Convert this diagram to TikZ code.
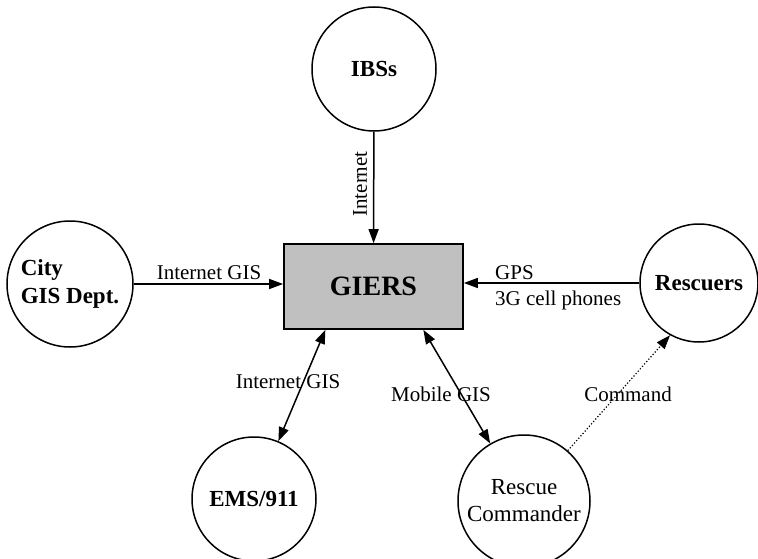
\documentclass[tikz,border=0pt]{standalone}
\usepackage{fontspec}
\setmainfont{Liberation Serif}
\usetikzlibrary{arrows.meta}
\begin{document}
\begin{tikzpicture}[x=1pt,y=-1pt,
  ent/.style={circle,draw,line width=1.5pt,inner sep=0pt,font=\fontsize{23}{28}\selectfont\bfseries,align=center},
  plain/.style={circle,draw,line width=1.5pt,inner sep=0pt,font=\fontsize{23}{27}\selectfont,align=center},
  lbl/.style={inner sep=0pt,font=\fontsize{21}{25}\selectfont},
  conn/.style={line width=1.5pt,-{Triangle[length=14pt,width=10pt]}},
  biconn/.style={line width=1.5pt,{Triangle[length=14pt,width=10pt]}-{Triangle[length=14pt,width=10pt]}},
  cmd/.style={line width=1.2pt,dotted,-{Triangle[length=14pt,width=10pt]}}]
\useasboundingbox (0,0) rectangle (758,559);
\node[draw,line width=1.7pt,fill={rgb,255:red,192;green,192;blue,192},minimum width=179pt,minimum height=85pt,inner sep=0pt,font=\fontsize{28}{32}\selectfont\bfseries] (giers) at (373.5,286.5) {GIERS};
\node[ent,minimum size=124pt] (ibs) at (374,69) {IBSs};
\node[ent,minimum size=126pt,align=left] (city) at (70,284) {City\\GIS Dept.};
\node[ent,minimum size=118pt] (resc) at (699,283) {Rescuers};
\node[ent,minimum size=124pt] (ems) at (254,499) {EMS/911};
\node[plain,minimum size=132pt] (rc) at (524,501) {Rescue\\Commander};
\draw[conn] (ibs) -- (giers);
\draw[conn] (city) -- (giers.west |- city.east);
\draw[conn] (resc) -- (giers.east |- resc.west);
\draw[biconn] (giers.222) -- (ems);
\draw[biconn] (giers.319) -- (rc);
\draw[cmd] (rc.49) -- (resc.241);
\node[lbl,rotate=90] (l1) at (360,184) {Internet};
\node[lbl] (l2) at (209,273) {Internet GIS};
\node[lbl,anchor=west] (l3) at (495,273) {GPS};
\node[lbl,anchor=west] (l4) at (495,300) {3G cell phones};
\node[lbl] (l5) at (288,382) {Internet GIS};
\node[lbl] (l6) at (441,394) {Mobile GIS};
\node[lbl] (l7) at (628,394) {Command};
\end{tikzpicture}
\end{document}
